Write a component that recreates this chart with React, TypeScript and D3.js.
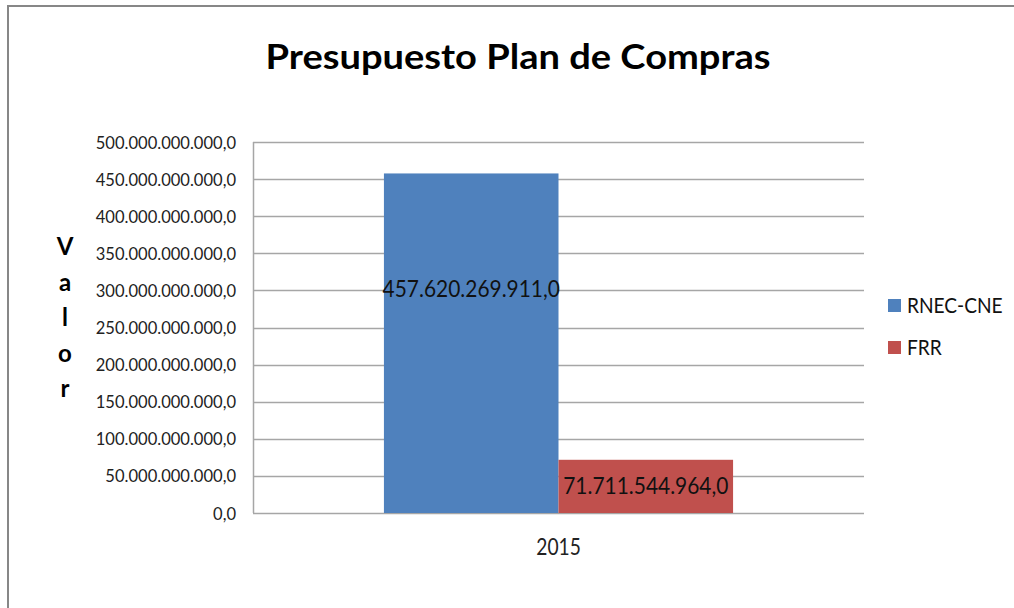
import React from "react";
import * as d3 from "d3";

const title = "Presupuesto Plan de Compras";
const yAxisTitle = "Valor";
const categories = ["2015"];
const seriesNames = ["RNEC-CNE", "FRR"];
const seriesColors = ["#4F81BD", "#C0504D"];
const seriesValues = [[457620269911.0], [71711544964.0]];
const yMax = 500000000000;

const W = 1014;
const H = 608;
const plot = { left: 253, right: 864, top: 142, bottom: 513 };
const FONT = "Lato, 'Open Sans', sans-serif";
const labelOffsetY = [-54, 0];

const fmt = d3.formatLocale({ decimal: ",", thousands: ".", grouping: [3], currency: ["", ""] }).format(",.1f");

function T({ x, y, sx = 1, anchor = "start", size, weight = "normal", fill = "#000", children }: any) {
  return (
    <text
      transform={`translate(${x},${y}) scale(${sx},1)`}
      textAnchor={anchor}
      fontSize={size}
      fontWeight={weight}
      fontFamily={FONT}
      fill={fill}
    >
      {children}
    </text>
  );
}

export default function App() {
  const x0 = d3.scaleBand<string>().domain(categories).range([plot.left, plot.right]).paddingInner(0).paddingOuter(0);
  const x1 = d3.scaleBand<string>().domain(seriesNames).range([0, x0.bandwidth()]).paddingInner(0).paddingOuter(0.75);
  const y = d3.scaleLinear().domain([0, yMax]).range([plot.bottom, plot.top]);
  const ticks = y.ticks(10);

  return (
    <div style={{ position: "fixed", left: 0, top: 0, width: W, height: H, overflow: "hidden", background: "#fff" }}>
      <svg width={W} height={H} style={{ display: "block" }}>
        <rect x={0} y={0} width={W} height={H} fill="#fff" />
        <rect x={8} y={6} width={W + 20} height={H + 20} fill="none" stroke="#878787" strokeWidth={2} />

        <T x={518} y={69} anchor="middle" size={34} weight="bold" sx={1.12}>{title}</T>

        {/* y axis title, stacked */}
        <text fontFamily={FONT} fontSize={24} fontWeight="bold" textAnchor="middle">
          {yAxisTitle.split("").map((ch, i) => (
            <tspan key={i} x={65} y={255 + i * 35.5}>{ch}</tspan>
          ))}
        </text>

        {/* gridlines */}
        {ticks.map((t) => (
          <line key={t} x1={plot.left} x2={plot.right} y1={Math.round(y(t)) + 0.5} y2={Math.round(y(t)) + 0.5} stroke="#a6a6a6" strokeWidth={1.5} />
        ))}
        <line x1={plot.left + 0.5} x2={plot.left + 0.5} y1={plot.top} y2={plot.bottom} stroke="#a6a6a6" strokeWidth={1.5} />

        {/* tick labels */}
        {ticks.map((t) => (
          <T key={"l" + t} x={236} y={y(t) + 6.5} anchor="end" size={18} sx={0.92} fill="#222">{fmt(t)}</T>
        ))}

        {/* bars */}
        {categories.map((c, ci) =>
          seriesNames.map((s, si) => {
            const v = seriesValues[si][ci];
            const bx = (x0(c) as number) + (x1(s) as number);
            return (
              <rect key={c + s} x={bx} y={y(v)} width={x1.bandwidth()} height={y(0) - y(v)} fill={seriesColors[si]} />
            );
          })
        )}

        {/* data labels */}
        {categories.map((c, ci) =>
          seriesNames.map((s, si) => {
            const v = seriesValues[si][ci];
            const bx = (x0(c) as number) + (x1(s) as number) + x1.bandwidth() / 2;
            const cy = (y(v) + y(0)) / 2 + labelOffsetY[si];
            return (
              <T key={"d" + c + s} x={bx} y={cy + 8} anchor="middle" size={22.5} sx={0.93} fill="#111">{fmt(v)}</T>
            );
          })
        )}

        {/* category labels */}
        {categories.map((c) => (
          <T key={"c" + c} x={(x0(c) as number) + x0.bandwidth() / 2} y={555} anchor="middle" size={24} sx={0.8} fill="#222">{c}</T>
        ))}

        {/* legend */}
        {seriesNames.map((s, i) => (
          <g key={"lg" + s}>
            <rect x={888} y={299 + i * 42} width={13} height={13} fill={seriesColors[i]} />
            <T x={907} y={313 + i * 42} size={22} sx={0.87} fill="#111">{s}</T>
          </g>
        ))}
      </svg>
    </div>
  );
}
